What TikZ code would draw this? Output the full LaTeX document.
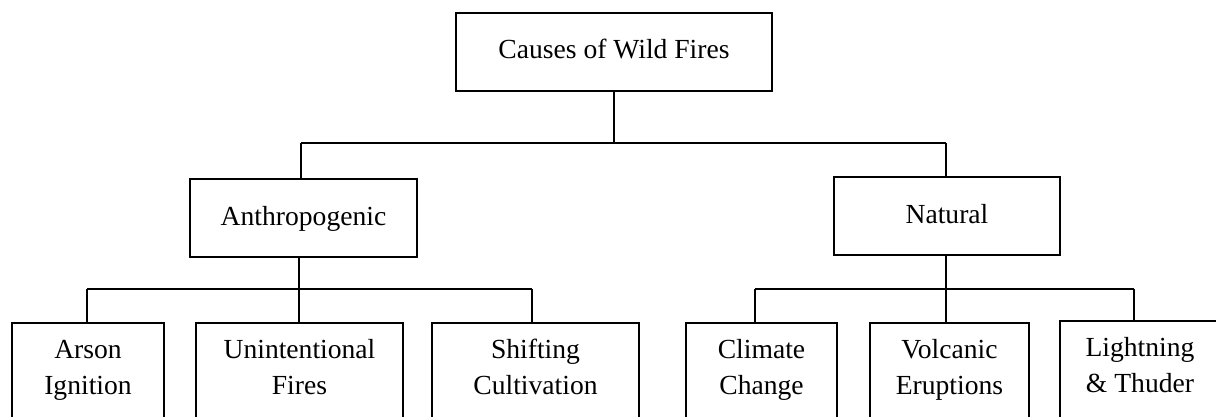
\documentclass[tikz,border=0pt]{standalone}
\usepackage{fontspec}
\setmainfont{Liberation Serif}
\begin{document}
\begin{tikzpicture}[x=1pt,y=-1pt,
  box/.style={draw, line width=1.1pt, inner sep=0pt, outer sep=0pt,
    font=\fontsize{27.6}{36.5}\selectfont},
  topbox/.style={box, minimum height=78pt, text height=20pt, text depth=6pt},
  leafbox/.style={box, anchor=north, align=center},
  conn/.style={line width=1.6pt}]
\useasboundingbox (0,0) rectangle (1216,417);
% top levels
\node[topbox, minimum width=316pt] (root) at (614,52) {Causes of Wild Fires};
\node[topbox, minimum width=227pt] (anth) at (303.5,218) {Anthropogenic};
\node[topbox, minimum width=226pt] (nat) at (947,216) {Natural};
% leaves
\newcommand{\lt}[2]{\rule{0pt}{35pt}#1\\#2\rule[-30pt]{0pt}{30pt}}
\node[leafbox, minimum width=152pt] (arson) at (88,323) {\lt{Arson}{Ignition}};
\node[leafbox, minimum width=207pt] (unint) at (299.5,323) {\lt{Unintentional}{Fires}};
\node[leafbox, minimum width=207pt] (shift) at (535.5,323) {\lt{Shifting}{Cultivation}};
\node[leafbox, minimum width=151pt] (clim) at (761.5,323) {\lt{Climate}{Change}};
\node[leafbox, minimum width=159pt] (volc) at (949.5,323) {\lt{Volcanic}{Eruptions}};
\node[leafbox, minimum width=160pt] (light) at (1140,321) {\lt{Lightning}{\& Thuder}};
% junction coordinates
\coordinate (b1l) at (301,143);
\coordinate (b1r) at (946,143);
\coordinate (b2l) at (87,289);
\coordinate (b2m) at (299,289);
\coordinate (b2r) at (532,289);
\coordinate (b3l) at (755,289);
\coordinate (b3m) at (946,289);
\coordinate (b3r) at (1134,289);
% connectors
\draw[conn] (root.south) -- (root.south |- b1l);
\draw[conn] (b1l) -- (b1r);
\draw[conn] (b1l) -- (b1l |- anth.north);
\draw[conn] (b1r) -- (b1r |- nat.north);
\draw[conn] (b2m |- anth.south) -- (b2m);
\draw[conn] (b2l) -- (b2r);
\draw[conn] (b2l) -- (b2l |- arson.north);
\draw[conn] (b2m) -- (b2m |- unint.north);
\draw[conn] (b2r) -- (b2r |- shift.north);
\draw[conn] (b3m |- nat.south) -- (b3m);
\draw[conn] (b3l) -- (b3r);
\draw[conn] (b3l) -- (b3l |- clim.north);
\draw[conn] (b3m) -- (b3m |- volc.north);
\draw[conn] (b3r) -- (b3r |- light.north);
\end{tikzpicture}
\end{document}
